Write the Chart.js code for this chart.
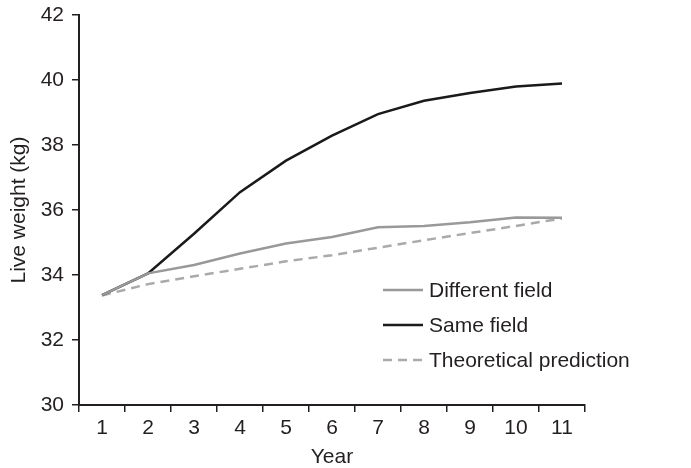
<!DOCTYPE html>
<html>
<head>
<meta charset="utf-8">
<script src="https://cdn.jsdelivr.net/npm/chart.js@4.4.1/dist/chart.umd.min.js"></script>
<style>
html,body{margin:0;padding:0;background:#fff;}
#wrap{width:691px;height:468px;}
</style>
</head>
<body>
<div id="wrap"><canvas id="c" width="691" height="468"></canvas></div>
<script>
const years = ['1','2','3','4','5','6','7','8','9','10','11'];
const differentField = [33.38, 34.05, 34.31, 34.66, 34.97, 35.17, 35.47, 35.51, 35.62, 35.77, 35.76];
const sameField = [33.38, 34.05, 35.27, 36.55, 37.52, 38.29, 38.95, 39.36, 39.60, 39.80, 39.89];
const theoretical = [33.37, 33.72, 33.96, 34.19, 34.42, 34.61, 34.84, 35.07, 35.29, 35.51, 35.74];
const yTicks = [30, 32, 34, 36, 38, 40, 42];
const seriesNames = ['Different field', 'Same field', 'Theoretical prediction'];

const FONT = '"Liberation Sans", Arial, Helvetica, sans-serif';
const TEXT = '#231f20';
const FS = 21;

const legendPlugin = {
  id: 'innerLegend',
  afterDatasetsDraw(chart) {
    const ctx = chart.ctx;
    const x0 = 383, x1 = 423, tx = 429;
    const ys = [290, 325, 360];
    ctx.save();
    chart.data.datasets.forEach((ds, i) => {
      ctx.beginPath();
      ctx.strokeStyle = ds.borderColor;
      ctx.lineWidth = ds.borderWidth;
      ctx.setLineDash(ds.borderDash || []);
      ctx.moveTo(x0, ys[i]);
      ctx.lineTo(x1, ys[i]);
      ctx.stroke();
      ctx.setLineDash([]);
      ctx.fillStyle = TEXT;
      ctx.font = FS + 'px ' + FONT;
      ctx.textBaseline = 'middle';
      ctx.textAlign = 'left';
      ctx.fillText(ds.label, tx, ys[i] + 1);
    });
    ctx.restore();
  }
};

new Chart(document.getElementById('c'), {
  type: 'line',
  data: {
    labels: years,
    datasets: [
      { label: seriesNames[0], data: differentField, borderColor: '#999999', borderWidth: 2.5, pointRadius: 0, tension: 0, fill: false },
      { label: seriesNames[1], data: sameField, borderColor: '#1a1a1a', borderWidth: 2.5, pointRadius: 0, tension: 0, fill: false },
      { label: seriesNames[2], data: theoretical, borderColor: '#aaaaaa', borderWidth: 2.5, borderDash: [9, 6], pointRadius: 0, tension: 0, fill: false }
    ]
  },
  options: {
    responsive: false,
    animation: false,
    layout: { padding: { left: 0, right: 106, top: 15, bottom: 0 } },
    plugins: { legend: { display: false }, tooltip: { enabled: false } },
    scales: {
      x: {
        type: 'category',
        offset: true,
        grid: { offset: true, drawOnChartArea: false, drawTicks: true, tickLength: 7, color: '#231f20', lineWidth: 1.5 },
        border: { display: true, color: '#231f20', width: 2 },
        ticks: { color: TEXT, font: { family: FONT, size: FS }, padding: 4, maxRotation: 0, autoSkip: false },
        title: { display: true, text: 'Year', color: TEXT, font: { family: FONT, size: FS, lineHeight: 1 }, padding: { top: 0, bottom: 0 } },
        afterFit(s) { s.height = 63; s.paddingLeft = 0; s.paddingRight = 0; }
      },
      y: {
        min: 30, max: 42,
        afterBuildTicks(s) { s.ticks = yTicks.map(v => ({ value: v })); },
        grid: { drawOnChartArea: false, drawTicks: true, tickLength: 7, color: '#231f20', lineWidth: 1.5 },
        border: { display: true, color: '#231f20', width: 2 },
        ticks: { color: TEXT, font: { family: FONT, size: FS }, padding: 8 },
        title: { display: true, text: 'Live weight (kg)', color: TEXT, font: { family: FONT, size: FS }, padding: { top: 7, bottom: 0 } },
        afterFit(s) { s.width = 79; s.paddingTop = 0; s.paddingBottom = 0; }
      }
    }
  },
  plugins: [legendPlugin]
});
</script>
</body>
</html>
